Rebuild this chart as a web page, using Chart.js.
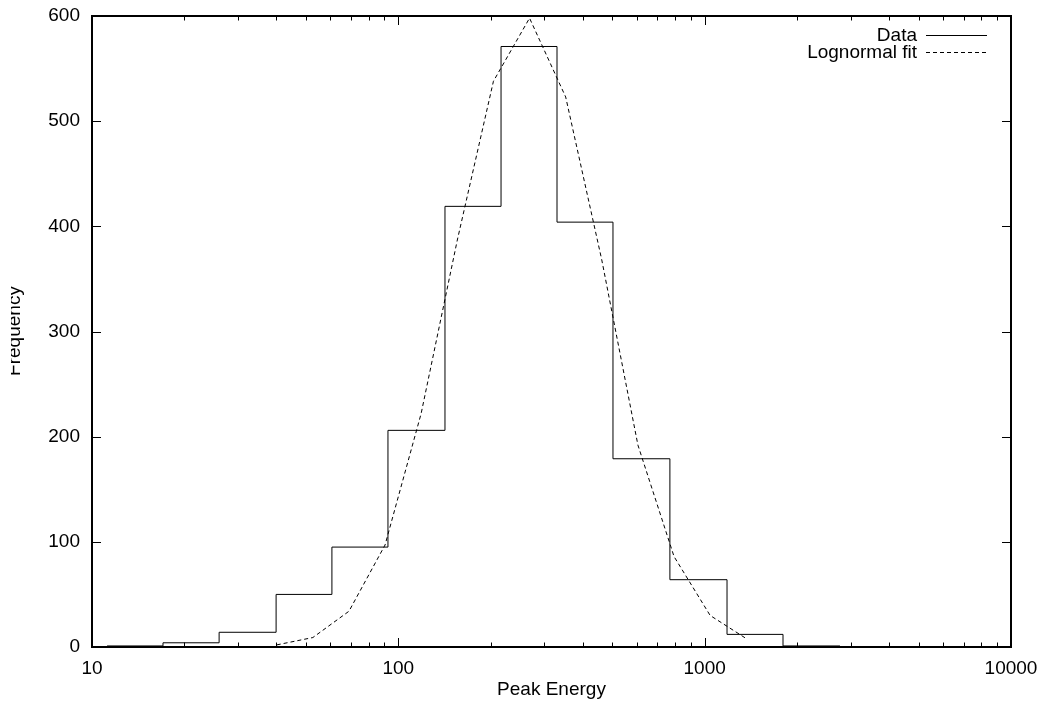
<!DOCTYPE html>
<html>
<head>
<meta charset="utf-8">
<title>Peak Energy histogram</title>
<script src="https://cdn.jsdelivr.net/npm/chart.js@4/dist/chart.umd.min.js"></script>
<style>
  html, body { margin: 0; padding: 0; background: #fff; }
  #chart { display: block; }
</style>
</head>
<body>
<canvas id="chart" width="1040" height="704"></canvas>
<script>
// histogram bin edges (log-spaced) and counts
const binEdges = [11.2, 17.05, 26.0, 39.9, 60.7, 92.5, 142, 216.4, 329.6, 502, 770, 1183, 1802, 2765];
const binCounts = [1, 4, 14, 50, 95, 206, 419, 571, 404, 179, 64, 12, 1];

// lognormal fit curve points
const fitEnergy = [40.1, 52.6, 69.0, 90.5, 118.7, 155.8, 204.4, 268.1, 351.8, 461.5, 605.5, 794.4, 1042, 1367];
const fitFreq = [2, 9, 34, 97, 222, 387, 538, 598, 523, 368, 192, 86, 30, 8];

const xTicks = [10, 100, 1000, 10000];
const yTicks = [0, 100, 200, 300, 400, 500, 600];

const seriesLabels = ["Data", "Lognormal fit"];
const xTitle = "Peak Energy";
const yTitle = "Frequency";

Chart.defaults.font.family = "'Liberation Sans', Arial, Helvetica, sans-serif";
Chart.defaults.font.size = 19;
Chart.defaults.color = "#000";

// histogram as a stepped line: each edge carries the count of the bin to its right
const histPoints = binEdges.map((e, i) => ({ x: e, y: binCounts[Math.min(i, binCounts.length - 1)] }));
const fitPoints = fitEnergy.map((e, i) => ({ x: e, y: fitFreq[i] }));

// gnuplot style frame: box border, inward ticks on all four sides
const frameTicks = {
    id: "frameTicks",
    afterDatasetsDraw(chart) {
        const { ctx, chartArea: a, scales } = chart;
        const xs = scales.x, ys = scales.y;
        ctx.save();
        ctx.strokeStyle = "#000";
        ctx.lineWidth = 1;
        ctx.beginPath();
        for (let d = 10; d < 10000; d *= 10) {
            for (let m = 1; m <= 9; m++) {
                const px = Math.round(xs.getPixelForValue(d * m)) + 0.5;
                const len = m === 1 ? 9 : 4.5;
                ctx.moveTo(px, a.bottom); ctx.lineTo(px, a.bottom - len);
                ctx.moveTo(px, a.top); ctx.lineTo(px, a.top + len);
            }
        }
        yTicks.forEach(v => {
            const py = Math.round(ys.getPixelForValue(v)) + 0.5;
            ctx.moveTo(a.left, py); ctx.lineTo(a.left + 9, py);
            ctx.moveTo(a.right, py); ctx.lineTo(a.right - 9, py);
        });
        ctx.stroke();

        ctx.lineWidth = 2;
        ctx.strokeRect(a.left, a.top, a.right - a.left, a.bottom - a.top);

        // axis titles
        ctx.fillStyle = "#000";
        ctx.font = "19px 'Liberation Sans', Arial, sans-serif";
        ctx.textAlign = "center";
        ctx.textBaseline = "middle";
        ctx.fillText(xTitle, (a.left + a.right) / 2, 690);

        ctx.save();
        ctx.beginPath();
        ctx.rect(11, 0, 100, chart.height);
        ctx.clip();
        ctx.translate(19.5, 331);
        ctx.rotate(-Math.PI / 2);
        ctx.textBaseline = "alphabetic";
        ctx.fillText(yTitle, 0, 0);
        ctx.restore();

        // legend, top right, text right-aligned with line sample after it
        const ds = chart.data.datasets;
        ctx.textAlign = "right";
        ctx.textBaseline = "middle";
        ds.forEach((d, i) => {
            const y = 35.5 + i * 17.5;
            ctx.fillText(d.label, 917, y);
            ctx.beginPath();
            ctx.setLineDash(d.borderDash || []);
            ctx.lineWidth = 1;
            ctx.moveTo(926, Math.round(y) - 0.5);
            ctx.lineTo(987, Math.round(y) - 0.5);
            ctx.stroke();
        });
        ctx.setLineDash([]);
        ctx.restore();
    }
};

new Chart(document.getElementById("chart"), {
    type: "line",
    data: {
        datasets: [
            {
                label: seriesLabels[0],
                data: histPoints,
                stepped: "before",
                borderColor: "#000",
                borderWidth: 1,
                pointRadius: 0,
                fill: false
            },
            {
                label: seriesLabels[1],
                data: fitPoints,
                borderColor: "#000",
                borderWidth: 1,
                borderDash: [4, 3],
                pointRadius: 0,
                tension: 0,
                fill: false
            }
        ]
    },
    plugins: [frameTicks],
    options: {
        responsive: false,
        animation: false,
        devicePixelRatio: 1,
        layout: { padding: { left: 0, top: 16, right: 29, bottom: 0 } },
        plugins: {
            legend: { display: false },
            tooltip: { enabled: false }
        },
        scales: {
            x: {
                type: "logarithmic",
                min: 10,
                max: 10000,
                afterBuildTicks: s => { s.ticks = xTicks.map(v => ({ value: v })); },
                afterFit: s => { s.height = 57; s.paddingLeft = 0; s.paddingRight = 0; },
                ticks: {
                    autoSkip: false,
                    maxRotation: 0,
                    padding: 10,
                    color: "#000",
                    callback: v => String(v)
                },
                grid: { display: false, drawTicks: false },
                border: { display: false }
            },
            y: {
                min: 0,
                max: 600,
                afterBuildTicks: s => { s.ticks = yTicks.map(v => ({ value: v })); },
                afterFit: s => { s.width = 92; s.paddingTop = 0; s.paddingBottom = 0; },
                ticks: { padding: 12, color: "#000" },
                grid: { display: false, drawTicks: false },
                border: { display: false }
            }
        }
    }
});
</script>
</body>
</html>
